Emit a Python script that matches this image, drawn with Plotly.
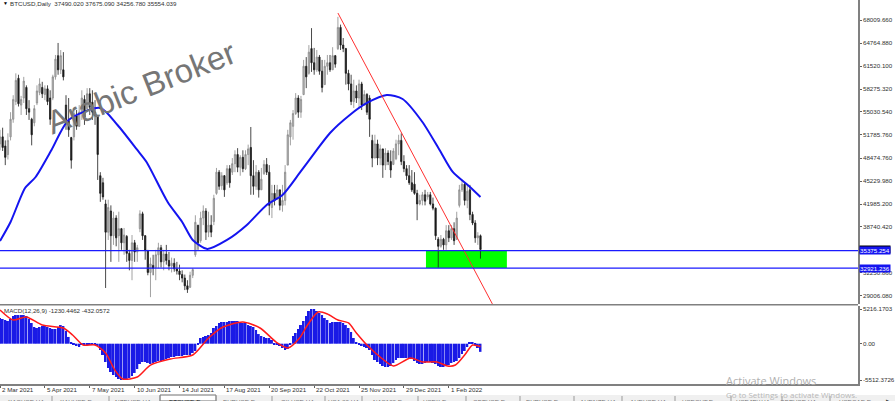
import plotly.graph_objects as go

W = 895
H = 401
RIGHT = 858 / W
TXT = '#303030'
FONT = 'Liberation Sans'

high = [52500, 52800, 51000, 52000, 55000, 57400, 60500, 60300, 57300, 60000,
        58800, 56700, 54200, 56000, 58800, 59800, 59300, 58800, 58800, 58100,
        60300, 63100, 64800, 63800, 63500, 57400, 57000, 51500, 55500, 55300,
        56000, 58100, 57400, 58400, 58400, 58100, 56700, 54600, 46500, 45700,
        42600, 42600, 41800, 40900, 40400, 40900, 38600, 38600, 37600, 35500,
        37600, 36900, 36200, 41100, 40900, 37600, 35500, 34400, 34800, 35500,
        36500, 36200, 35500, 36200, 35200, 34400, 34300, 33800, 33400, 32600,
        32000, 31200, 32400, 32900, 40400, 39000, 40900, 41800, 41400, 40900,
        40400, 43300, 47100, 46800, 46500, 46100, 47500, 47500, 48500, 49600,
        49900, 48900, 49600, 49600, 50400, 52900, 48200, 47500, 46800, 47100,
        48200, 48500, 47500, 44700, 44700, 44700, 44000, 44700, 47500, 52500,
        53900, 55300, 57700, 57400, 57300, 62400, 62800, 64500, 66900, 64100,
        63800, 63100, 62400, 62400, 63100, 63100, 64200, 63100, 68500, 67400,
        65500, 64100, 61000, 60300, 59600, 58800, 59600, 59300, 58100, 57700,
        57400, 51800, 51800, 51100, 50400, 49600, 49900, 49600, 49600, 49900,
        51100, 51800, 52000, 48900, 47500, 47500, 46800, 46500, 44000, 43300,
        43700, 44000, 43700, 43700, 42900, 41500, 37300, 37600, 37200, 39000,
        39000, 39000, 39400, 40900, 44700, 45400, 45100, 44700, 44700, 40900,
        39700, 38000, 37675]
low = [49600, 49500, 47500, 48300, 51000, 53500, 56000, 55800, 54600, 56300,
       54600, 53900, 50300, 53000, 56000, 57400, 57000, 56700, 56000, 53200,
       56700, 59600, 60300, 60400, 59500, 52500, 51500, 47000, 51000, 52500,
       52900, 53900, 53200, 55000, 54600, 53900, 53200, 45400, 42300, 42600,
       30100, 36900, 33800, 36200, 36000, 33800, 35500, 34800, 33800, 32600,
       31200, 33800, 33800, 38000, 36900, 34100, 31900, 28800, 31900, 31200,
       32900, 33000, 32600, 33400, 32600, 32300, 32400, 32000, 31200, 30900,
       29800, 29400, 30100, 31500, 34500, 35500, 36500, 39000, 36900, 37300,
       37300, 39000, 43300, 44000, 44000, 43000, 44700, 44300, 46100, 46500,
       46500, 46000, 46500, 46800, 47500, 43300, 43300, 44000, 42900, 44000,
       46100, 46100, 40400, 40000, 41800, 42600, 41100, 40900, 41800, 47500,
       50300, 51100, 54600, 54200, 54200, 57400, 58400, 60300, 60700, 60300,
       60700, 60300, 57800, 58900, 60300, 60700, 61000, 61300, 63800, 63800,
       63500, 58900, 58100, 56000, 55600, 56300, 55600, 55300, 56000, 54600,
       51500, 47200, 48500, 47500, 47500, 45700, 46800, 47500, 45700, 47500,
       48200, 48900, 47500, 46500, 45400, 44700, 43700, 43300, 39700, 41800,
       41800, 41800, 42600, 41800, 41100, 36900, 33000, 35800, 35500, 35500,
       36600, 36900, 36200, 36900, 41500, 43700, 41800, 41400, 39700, 39000,
       36500, 36200, 34256]
open_ = [50500, 51500, 50200, 49000, 51500, 54000, 56500, 59800, 56000, 57000,
         58500, 55500, 54000, 53500, 56300, 57800, 58500, 57500, 58300, 57000,
         57000, 60000, 63000, 61000, 61000, 56000, 53800, 51400, 51500, 54500,
         53000, 55000, 56800, 55500, 57600, 56400, 55000, 54400, 46000, 45000,
         42000, 38000, 41000, 37500, 40000, 37500, 38500, 36500, 37400, 35000,
         34000, 36500, 35200, 38500, 40600, 37500, 35400, 32300, 33300, 33000,
         34800, 35800, 33800, 34900, 34000, 33200, 33600, 32800, 32500, 32000,
         31500, 30400, 30200, 31900, 34800, 39000, 36800, 40000, 41000, 38000,
         39000, 39500, 43500, 46500, 44600, 46000, 45000, 47000, 46500, 47700,
         49000, 47200, 48600, 47000, 49000, 50000, 46000, 44500, 46500, 44000,
         46300, 47600, 46500, 41500, 43500, 42800, 44000, 41800, 42500, 47500,
         51500, 53000, 54800, 57000, 55000, 57500, 61500, 60500, 64000, 62000,
         61000, 62800, 60800, 58900, 61500, 62000, 61000, 63000, 64000, 67000,
         64500, 64000, 60500, 59000, 56500, 58000, 57000, 59000, 56000, 57500,
         57000, 51000, 48500, 50500, 48500, 49800, 47500, 49200, 48000, 47600,
         48400, 50500, 51000, 48000, 47000, 46000, 45000, 44800, 43500, 42000,
         42500, 43300, 43000, 43300, 42000, 41400, 37000, 36000, 37000, 36200,
         38200, 37200, 38500, 37000, 41800, 44000, 44800, 42500, 44000, 40500,
         39300, 37200, 37490]
close = [51500, 50000, 48600, 51000, 54000, 56800, 59500, 56200, 56800, 59400,
         55500, 55000, 51800, 55500, 58000, 59000, 57600, 58300, 56500, 54000,
         60000, 62500, 61000, 63000, 60000, 53800, 52500, 48200, 54800, 53000,
         55000, 57000, 54300, 57600, 55700, 55000, 54500, 49000, 43500, 43000,
         38000, 41500, 37500, 40000, 37200, 38500, 36500, 37600, 35000, 34000,
         36500, 35200, 35800, 40600, 37500, 35400, 32300, 33500, 32900, 34800,
         35800, 33800, 34900, 34000, 33200, 33600, 32800, 32500, 32000, 31500,
         30400, 29900, 31900, 32700, 39400, 36500, 40000, 41000, 38000, 39000,
         38000, 42800, 46500, 44500, 46000, 44000, 47000, 45000, 47700, 49000,
         47200, 48600, 47000, 49000, 49800, 46000, 44500, 46500, 44000, 45500,
         47600, 46500, 41800, 43500, 42500, 44000, 41800, 42500, 46500, 51800,
         53500, 54800, 57000, 55000, 56800, 61500, 60000, 63500, 62000, 61000,
         62800, 60800, 58500, 61500, 62000, 61000, 63000, 61800, 67000, 64500,
         64000, 60500, 59000, 56500, 58000, 57000, 59000, 56000, 57500, 55000,
         54000, 48500, 50500, 48500, 49800, 47500, 49200, 48000, 46800, 49500,
         50500, 51000, 48000, 47000, 46000, 45000, 44000, 43500, 42000, 42500,
         43300, 42400, 43300, 42000, 41400, 37500, 36000, 37000, 36200, 38200,
         37200, 38500, 36800, 40000, 44000, 44800, 42500, 43800, 40500, 39300,
         37200, 37500, 35554]
macd_hist = [3880, 3730, 3580, 3430, 3730, 4180, 4330, 4330, 4330, 4330,
             4180, 3730, 3130, 2520, 2370, 2520, 2670, 2820, 2520, 2370,
             2220, 2220, 2520, 2820, 2670, 1920, 1020, 110, -200, -350,
             -500, -200, -50, -50, -50, -60, -200, -350, -950, -1710,
             -2760, -3670, -4270, -4730, -5030, -5330, -5480, -5480, -5330, -5180,
             -4880, -4420, -3820, -3070, -2760, -2760, -2910, -3070, -2910, -2760,
             -2610, -2610, -2460, -2310, -2160, -2010, -2010, -1860, -1860, -1860,
             -1710, -1710, -1710, -1400, -1100, -50, 860, 1010, 1160, 1310,
             1620, 2370, 2670, 3130, 3280, 3280, 3280, 3430, 3430, 3430,
             3430, 3280, 3130, 3130, 2820, 2670, 2520, 2070, 1460, 1160,
             1010, 860, 860, 560, -50, -200, -350, -650, -950, -800,
             -200, 1160, 1620, 2220, 2820, 3430, 4180, 4940, 5240, 5240,
             4940, 4640, 4330, 3880, 3580, 3130, 3280, 3280, 3280, 3280,
             3130, 2820, 2370, 1770, 860, 110, -200, -350, -500, -650,
             -950, -1710, -2460, -2760, -3070, -3370, -3520, -3520, -3370, -2910,
             -2460, -2160, -2160, -2160, -2160, -2160, -2310, -2610, -2910, -3070,
             -3070, -2910, -2760, -2760, -2910, -3070, -3370, -3520, -3520, -3370,
             -3220, -2910, -2760, -2610, -2160, -1560, -1100, -500, 110, 110,
             -200, -650, -1230]
bars = list(range(0, 2 * len(close), 2))

ma_bars = [0, 8, 19, 27, 39, 52, 76, 89, 104, 111, 127, 138, 146, 157, 172,
           187, 202, 214, 227, 240, 250, 265, 278, 293, 305, 320, 333, 343, 356, 364]
ma_values = [36760, 39450, 44265, 45820, 49645, 53895, 55590, 53185, 49645, 47945,
             42280, 39450, 36900, 35630, 36900, 39025, 41860, 43270, 46390, 49645,
             52050, 54600, 56300, 57430, 56865, 53610, 49645, 46530, 44405, 42990]

signal_bars = [0, 10, 20, 32, 48, 55, 63, 72, 80, 87, 93, 104, 114, 129, 146, 158,
               169, 184, 197, 210, 218, 227, 233, 241, 248, 256, 264, 270, 278, 288,
               298, 311, 320, 331, 339, 345, 352, 358, 364]
signal_values = [5090, 3580, 4030, 2820, 2370, 1310, -200, -200, -1400, -3970, -5330,
                 -5030, -3220, -2310, -1710, 860, 2520, 3280, 2370, 110, -650, 860,
                 2820, 4790, 4490, 3580, 3130, 1620, -200, -2010, -3370, -2160,
                 -2760, -2760, -3370, -3220, -1710, -200, -432]

trend_bars = [256, 373]
trend_prices = [69040, 27840]
level_prices = [35375.254, 32921.236]
zone_bars = [322.7, 384]
current_price = 35554.039

price_ticks = [68009.66, 64764.88, 61520.10, 58275.32, 55030.54, 51785.76,
               48474.76, 45229.98, 41985.20, 38740.42, 32250.86, 29006.08]
macd_ticks = [5216.1703, 0, -5512.3726]
macd_tick_text = ['5216.1703', '0.00', '-5512.3726']
date_bars = [0, 34, 68, 102, 136, 170, 204, 238, 272, 306, 340]
date_labels = ['2 Mar 2021', '5 Apr 2021', '7 May 2021', '10 Jun 2021', '14 Jul 2021',
               '17 Aug 2021', '20 Sep 2021', '22 Oct 2021', '25 Nov 2021',
               '29 Dec 2021', '1 Feb 2022']
tab_labels = ['XAGUSD,H4', 'XAUUSD,D...', 'NZDUSD,H4', 'BTCUSD,D...', 'EURUSD,D...',
              'OILUSD,H4', 'USA 30,H4', 'NAS100,D...', 'USDX,D...', 'GBPUSD,D...',
              'EURUSD,D...', 'AUDNZD,H4', 'AUDUSD,H4', 'USDCHF,D...', 'USDJPY,H4',
              'GBPUSD,H4', 'USDCAD,D...']
tab_centres = [26, 78, 133, 187, 242, 297, 343, 390, 437, 492, 545, 598, 648, 700, 753, 798, 858]
tab_edges = [52, 109, 160, 216, 272, 325, 362, 418, 466, 520, 574, 622, 675, 731, 782, 830]


def note(text, x, y, size=6.2, color=TXT, family=FONT, xref='paper', yref='paper', xanchor='left', **kw):
    return dict(text=text, x=x, y=y, xref=xref, yref=yref, xanchor=xanchor, yanchor='middle', showarrow=False,
                font=dict(family=family, size=size, color=color), **kw)


fig = go.Figure()
fig.add_trace(go.Candlestick(x=bars, open=open_, high=high, low=low, close=close,
                             increasing=dict(line=dict(color='#8a8a8a', width=0.8), fillcolor='#b8b8b8'),
                             decreasing=dict(line=dict(color='#1a1a1a', width=0.8), fillcolor='#1a1a1a'),
                             xaxis='x', yaxis='y'))
fig.add_trace(go.Scatter(x=ma_bars, y=ma_values, mode='lines', xaxis='x', yaxis='y',
                         line=dict(color='#1414f0', width=2, shape='spline', smoothing=0.7)))
fig.add_trace(go.Scatter(x=trend_bars, y=trend_prices, mode='lines', xaxis='x', yaxis='y',
                         line=dict(color='#ff3030', width=1)))
fig.add_trace(go.Bar(x=bars, y=macd_hist, xaxis='x2', yaxis='y2',
                     marker=dict(color='#1a1ae6', line=dict(width=0))))
fig.add_trace(go.Scatter(x=signal_bars, y=signal_values, mode='lines', xaxis='x2', yaxis='y2',
                         line=dict(color='#ff1a1a', width=1.5, shape='spline', smoothing=0.7)))

shapes = [
    dict(type='rect', xref='x', yref='y', x0=zone_bars[0], x1=zone_bars[1],
         y0=level_prices[1], y1=level_prices[0], fillcolor='#00ff00', line_width=0, layer='below'),
    dict(type='rect', xref='paper', yref='paper', x0=0, x1=1, y0=0, y1=6 / H,
         fillcolor='#f0f0f0', line_width=0, layer='below'),
    dict(type='rect', xref='paper', yref='paper', x0=160 / W, x1=216 / W, y0=0, y1=6 / H,
         fillcolor='#ffffff', line=dict(color='#707070', width=1), layer='below'),
    dict(type='line', xref='paper', yref='paper', x0=0, x1=RIGHT, y0=(H - 304.7) / H, y1=(H - 304.7) / H,
         line=dict(color='#808080', width=1.5)),
]
for p in level_prices:
    shapes.append(dict(type='line', xref='paper', yref='y', x0=0, x1=RIGHT, y0=p, y1=p,
                       line=dict(color='#1a1aff', width=1.2)))
for e in tab_edges:
    shapes.append(dict(type='line', xref='paper', yref='paper', x0=e / W, x1=e / W, y0=0, y1=5 / H,
                       line=dict(color='#9a9a9a', width=1)))

annotations = [
    note('Arabic Broker', 141 / W, (H - 87) / H, size=33, color='#767676', xanchor='center', textangle=-21.5),
    note('\u25bc', 1 / W, (H - 3.5) / H, size=5, color='#000000'),
    note('BTCUSD,Daily  37490.020 37675.090 34256.780 35554.039', 8 / W, (H - 3.5) / H),
    note('MACD(12,26,9) -1230.4462 -432.0572', 2 / W, (H - 310.7) / H),
    note('Activate Windows', 724 / W, (H - 380) / H, size=11, color='#b0b0b0', family='Open Sans'),
    note('Go to Settings to activate Windows.', 724 / W, (H - 394) / H, size=8, color='#b8b8b8', family='Open Sans'),
    note(f'{current_price:.3f}', 858.5 / W, current_price, color='#ffffff', yref='y', bgcolor='#000000', borderpad=0),
    note('\u25b6', 888 / W, 1 / H, size=4, color='#404040', xanchor='center'),
]
for p in level_prices:
    annotations.append(note(f'{p:.3f}', 858.5 / W, p, color='#ffffff', yref='y', bgcolor='#1414f0', borderpad=0))
for b, d in zip(date_bars, date_labels):
    annotations.append(note(d, b, (H - 389.5) / H, xref='x2'))
for c, t in zip(tab_centres, tab_labels):
    color = '#202020' if t == 'BTCUSD,D...' else '#707070'
    annotations.append(note(t, c / W, 0, color=color, xanchor='center'))

axis_x = dict(range=[0, 650], domain=[0, RIGHT], showgrid=False, zeroline=False, rangeslider=dict(visible=False))
axis_y = dict(side='right', showgrid=False, zeroline=False, showline=True, linecolor='#808080', linewidth=1.5,
              ticks='outside', ticklen=2, tickcolor='#606060', tickfont=dict(family=FONT, size=6.2, color=TXT))

fig.update_layout(
    width=W, height=H, margin=dict(l=0, r=0, t=0, b=0), autosize=False,
    paper_bgcolor='#ffffff', plot_bgcolor='#ffffff', showlegend=False, bargap=0.25,
    xaxis=dict(axis_x, anchor='y', showticklabels=False, ticks=''),
    xaxis2=dict(axis_x, anchor='y2', matches='x', showline=True, linecolor='#808080', linewidth=1.5,
                ticks='outside', ticklen=2, tickcolor='#606060', tickvals=date_bars, showticklabels=False),
    yaxis=dict(axis_y, anchor='x', domain=[(H - 304) / H, 1], range=[27830, 70885],
               tickvals=price_ticks, ticktext=[f'{v:.3f}' for v in price_ticks]),
    yaxis2=dict(axis_y, anchor='x2', domain=[(H - 384) / H, (H - 306) / H], range=[-6085, 5693],
                tickvals=macd_ticks, ticktext=macd_tick_text),
    shapes=shapes, annotations=annotations,
)
for tr in fig.data:
    tr.update(hoverinfo='skip')

# page has a default body margin, drop it so the chart sits at the window corner
fig.write_html("out.html", config=dict(displayModeBar=False),
               post_script="document.body.style.margin='0';document.body.style.overflow='hidden';")
